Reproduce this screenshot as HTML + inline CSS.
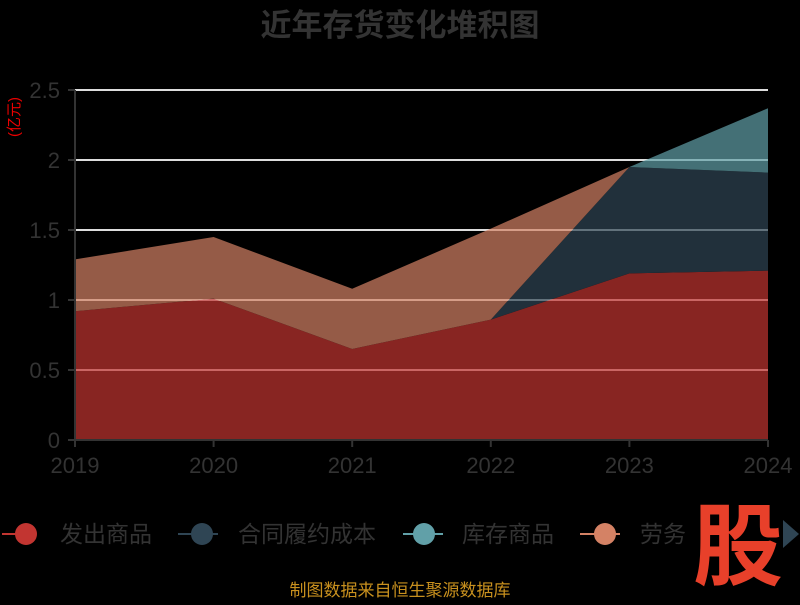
<!DOCTYPE html>
<html><head><meta charset="utf-8"><style>
body{margin:0;background:#000;}
text{font-family:"Liberation Sans","Noto Sans CJK SC",sans-serif;}
</style></head><body>
<svg width="800" height="600" xmlns="http://www.w3.org/2000/svg">
<rect width="800" height="600" fill="#000"/>
<text x="400" y="36" text-anchor="middle" font-size="31" font-weight="bold" fill="#333">近年存货变化堆积图</text>
<g stroke="#ddd" stroke-width="2">
<line x1="75" y1="90" x2="768" y2="90"/><line x1="75" y1="160" x2="768" y2="160"/>
<line x1="75" y1="230" x2="768" y2="230"/><line x1="75" y1="300" x2="768" y2="300"/>
<line x1="75" y1="370" x2="768" y2="370"/>
</g>
<g opacity="0.7">
<polygon fill="#c23531" points="75,311.2 213.6,298.6 352.2,349 490.8,319.6 629.4,273.4 768,270.6 768,440 75,440"/>
<polygon fill="#2f4554" points="490.8,319.6 629.4,167 768,172.6 768,270.6 629.4,273.4 490.8,319.6"/>
<polygon fill="#61a0a8" points="629.4,167 768,108.2 768,172.6"/>
<polygon fill="#d48265" points="75,259.4 213.6,237 352.2,288.8 490.8,228.6 629.4,167 490.8,319.6 352.2,349 213.6,298.6 75,311.2"/>
</g>
<g stroke="#333" stroke-width="2">
<line x1="75" y1="90" x2="75" y2="440"/><line x1="75" y1="440" x2="768" y2="440"/>
<line x1="68" y1="90" x2="75" y2="90"/><line x1="68" y1="160" x2="75" y2="160"/><line x1="68" y1="230" x2="75" y2="230"/><line x1="68" y1="300" x2="75" y2="300"/><line x1="68" y1="370" x2="75" y2="370"/><line x1="68" y1="440" x2="75" y2="440"/>
<line x1="75" y1="440" x2="75" y2="447"/><line x1="213.6" y1="440" x2="213.6" y2="447"/><line x1="352.2" y1="440" x2="352.2" y2="447"/><line x1="490.8" y1="440" x2="490.8" y2="447"/><line x1="629.4" y1="440" x2="629.4" y2="447"/><line x1="768" y1="440" x2="768" y2="447"/>
</g>
<g fill="#333" font-size="22" text-anchor="end">
<text x="60" y="98">2.5</text><text x="60" y="168">2</text><text x="60" y="238">1.5</text><text x="60" y="308">1</text><text x="60" y="378">0.5</text><text x="60" y="448">0</text>
</g>
<g fill="#333" font-size="22" text-anchor="middle">
<text x="75" y="473">2019</text><text x="213.6" y="473">2020</text><text x="352.2" y="473">2021</text><text x="490.8" y="473">2022</text><text x="629.4" y="473">2023</text><text x="768" y="473">2024</text>
</g>
<text transform="translate(19,117) rotate(-90)" fill="#e00" font-size="15" text-anchor="middle">(亿元)</text>
<g font-size="23" fill="#333">
<line x1="2" y1="534" x2="34" y2="534" stroke="#c23531" stroke-width="2"/><circle cx="26" cy="534" r="11" fill="#c23531"/><text x="60" y="542">发出商品</text>
<line x1="178" y1="534" x2="218" y2="534" stroke="#2f4554" stroke-width="2"/><circle cx="202" cy="534" r="11" fill="#2f4554"/><text x="238" y="542">合同履约成本</text>
<line x1="403" y1="534" x2="443" y2="534" stroke="#61a0a8" stroke-width="2"/><circle cx="424" cy="534" r="11" fill="#61a0a8"/><text x="462" y="542">库存商品</text>
<line x1="580" y1="534" x2="620" y2="534" stroke="#d48265" stroke-width="2"/><circle cx="605" cy="534" r="11" fill="#d48265"/><text x="640" y="542">劳务</text>
</g>
<text x="738" y="578" text-anchor="middle" font-size="90" font-weight="bold" fill="#e8402a">股</text>
<polygon points="783,520 799,534 783,548" fill="#2f4554"/>
<text x="400" y="596" text-anchor="middle" font-size="17" fill="#c8901e">制图数据来自恒生聚源数据库</text>
</svg>
</body></html>
